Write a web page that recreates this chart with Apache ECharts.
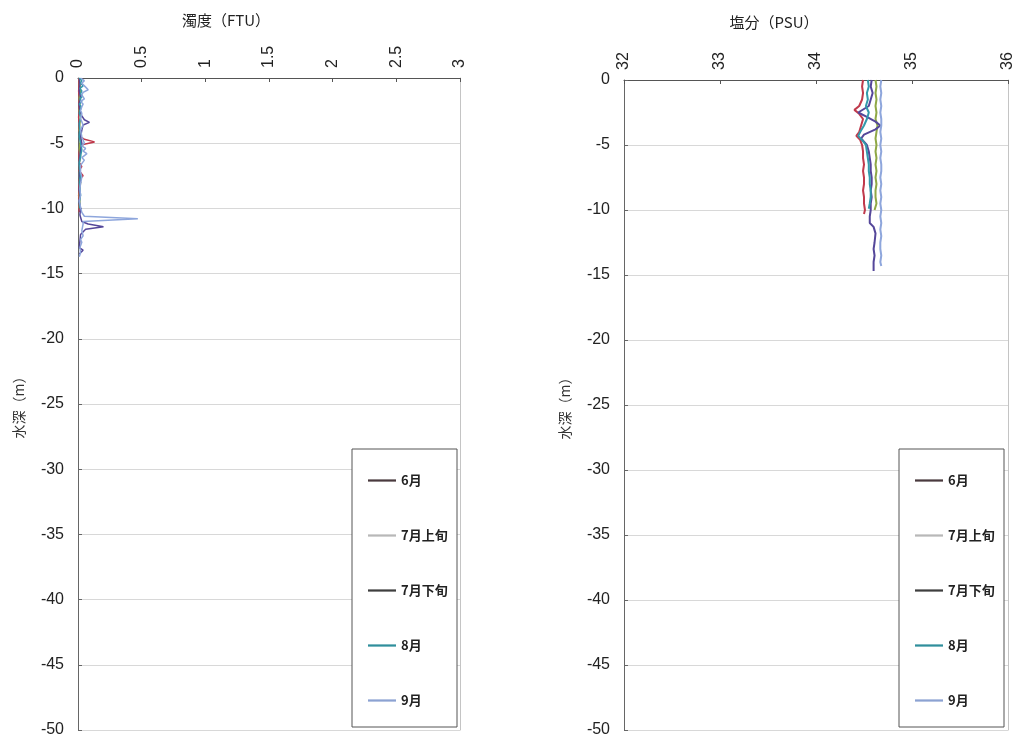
<!DOCTYPE html>
<html>
<head>
<meta charset="utf-8">
<script src="https://cdn.jsdelivr.net/npm/echarts@6/dist/echarts.min.js"></script>
<style>
  html, body { margin: 0; padding: 0; background: #fff; }
  #chart { width: 1017px; height: 744px; }
</style>
</head>
<body>
<div id="chart"></div>
<script>
// Survey months
const months = ['6月', '7月上旬', '7月下旬', '8月', '9月'];

// Turbidity profiles (FTU) : depth (m) and value per month
const turbDepth_jun = [0,-0.5,-1,-1.5,-2,-2.5,-3,-3.5,-4,-4.5,-4.7,-4.9,-5.1,-5.5,-6,-6.5,-6.8,-7.1,-7.5,-7.8,-8.2,-8.6,-9,-9.5,-10,-10.3];
const turbValue_jun = [0.005,0.01,0.005,0.01,0.008,0.01,0.005,0.01,0.01,0.02,0.05,0.13,0.04,0.01,0.008,0.01,0.03,0.008,0.04,0.01,0.008,0.01,0.005,0.01,0.008,0.01];

const turbDepth_julA = [0,-0.5,-1,-1.5,-2,-2.5,-3,-3.5,-4,-4.5,-5,-5.5,-6,-6.5,-7,-7.5,-8,-8.5,-9,-9.5,-10];
const turbValue_julA = [0.01,0.015,0.02,0.01,0.015,0.01,0.02,0.015,0.01,0.02,0.015,0.01,0.02,0.01,0.015,0.01,0.02,0.015,0.01,0.015,0.01];

const turbDepth_julB = [0,-0.5,-1,-1.5,-2,-2.5,-2.9,-3.2,-3.4,-3.6,-4,-4.5,-5,-5.5,-6,-6.5,-7,-7.5,-8,-8.5,-9,-9.5,-10,-10.5,-11,-11.2,-11.4,-11.6,-12,-12.5,-13,-13.2,-13.5];
const turbValue_julB = [0.01,0.015,0.01,0.02,0.01,0.015,0.03,0.05,0.09,0.04,0.03,0.02,0.03,0.02,0.015,0.01,0.015,0.01,0.02,0.01,0.015,0.01,0.02,0.015,0.03,0.08,0.2,0.06,0.02,0.015,0.01,0.04,0.01];

const turbDepth_aug = [0,-0.2,-0.4,-0.6,-0.8,-1,-1.2,-1.4,-1.6,-1.8,-2,-2.2,-2.4,-2.7,-3,-3.5,-4,-4.5,-5,-5.5,-6,-6.5,-7,-7.5,-8,-8.5,-9,-9.5,-10];
const turbValue_aug = [0.01,0.03,0.02,0.04,0.015,0.03,0.02,0.035,0.015,0.03,0.01,0.025,0.02,0.01,0.02,0.01,0.015,0.01,0.02,0.03,0.02,0.01,0.015,0.02,0.01,0.015,0.02,0.01,0.015];

const turbDepth_sep = [0,-0.2,-0.4,-0.7,-0.9,-1.1,-1.3,-1.6,-1.8,-2.0,-2.2,-2.5,-2.7,-3.1,-3.6,-4,-4.5,-5,-5.2,-5.4,-5.6,-5.8,-6.1,-6.3,-6.7,-7.2,-7.6,-8.1,-8.5,-9,-9.4,-9.9,-10.3,-10.6,-10.8,-11,-11.2,-11.7,-12.1,-12.4,-12.6,-13,-13.4,-13.7];
const turbValue_sep = [0.02,0.05,0.03,0.06,0.08,0.04,0.03,0.05,0.02,0.04,0.03,0.02,0.03,0.02,0.04,0.02,0.03,0.05,0.03,0.06,0.04,0.07,0.03,0.05,0.02,0.02,0.03,0.02,0.015,0.02,0.01,0.02,0.03,0.05,0.47,0.04,0.04,0.03,0.04,0.02,0.03,0.015,0.02,0.01];

// Salinity profiles (PSU) : depth (m) and value per month
const salDepth_jun = [0,-0.5,-1,-1.5,-2,-2.3,-2.6,-3,-3.5,-4,-4.3,-4.6,-5,-5.5,-6,-6.5,-7,-7.5,-8,-8.5,-9,-9.5,-10,-10.3];
const salValue_jun = [34.49,34.48,34.49,34.48,34.45,34.40,34.45,34.49,34.47,34.45,34.42,34.46,34.48,34.49,34.49,34.50,34.49,34.50,34.50,34.49,34.50,34.50,34.51,34.50];

const salDepth_julA = [0,-0.5,-1,-1.5,-2,-2.5,-3,-3.5,-4,-4.5,-5,-5.5,-6,-6.5,-7,-7.5,-8,-8.5,-9,-9.5,-10];
const salValue_julA = [34.62,34.63,34.62,34.63,34.62,34.63,34.62,34.64,34.63,34.62,34.63,34.62,34.63,34.62,34.63,34.62,34.63,34.62,34.62,34.63,34.61];

const salDepth_julB = [0,-0.5,-1,-1.5,-2,-2.5,-2.8,-3.2,-3.5,-3.8,-4.2,-4.5,-5,-5.5,-6,-6.5,-7,-7.5,-8,-8.5,-9,-9.5,-10,-10.5,-11,-11.3,-11.8,-12.5,-13,-13.5,-14,-14.7];
const salValue_julB = [34.58,34.57,34.59,34.57,34.55,34.44,34.52,34.62,34.67,34.62,34.50,34.47,34.53,34.55,34.56,34.57,34.57,34.58,34.58,34.57,34.58,34.57,34.57,34.56,34.56,34.60,34.62,34.61,34.60,34.61,34.60,34.60];

const salDepth_aug = [0,-0.5,-1,-1.5,-2,-2.5,-3,-3.5,-4,-4.3,-4.7,-5,-5.5,-6,-6.5,-7,-7.5,-8,-8.5,-9,-9.5,-9.9];
const salValue_aug = [34.54,34.55,34.53,34.54,34.52,34.55,34.53,34.50,34.46,34.44,34.49,34.52,34.53,34.54,34.55,34.55,34.56,34.56,34.57,34.57,34.56,34.55];

const salDepth_sep = [0,-0.5,-1,-1.5,-2,-2.5,-3,-3.5,-4,-4.5,-5,-5.5,-6,-6.5,-7,-7.5,-8,-8.5,-9,-9.5,-10,-10.5,-11,-11.5,-12,-12.5,-13,-13.5,-14,-14.3];
const salValue_sep = [34.68,34.67,34.68,34.67,34.68,34.67,34.68,34.68,34.67,34.68,34.67,34.68,34.67,34.68,34.68,34.67,34.68,34.67,34.68,34.67,34.68,34.67,34.68,34.67,34.68,34.67,34.67,34.68,34.67,34.68];

const lineColors = ['#c03a4c', '#8fa846', '#55479a', '#3399ab', '#8ea6dc'];
const legendIconColors = ['#4a3a3e', '#b8b8b8', '#3f3f3f', '#2f8f9c', '#8ca2d2'];

const turbSets = [
  [turbDepth_jun, turbValue_jun], [turbDepth_julA, turbValue_julA], [turbDepth_julB, turbValue_julB],
  [turbDepth_aug, turbValue_aug], [turbDepth_sep, turbValue_sep]
];
const salSets = [
  [salDepth_jun, salValue_jun], [salDepth_julA, salValue_julA], [salDepth_julB, salValue_julB],
  [salDepth_aug, salValue_aug], [salDepth_sep, salValue_sep]
];

const pairs = (d, v) => v.map((x, i) => [x, d[i]]);

const NUM_FONT = '"Liberation Sans", Arial, sans-serif';
const CJK_FONT = '"Noto Sans CJK JP", "Noto Sans", sans-serif';

function depthAxis(gridIndex) {
  return {
    type: 'value', gridIndex, min: -50, max: 0, interval: 5, position: 'left',
    name: '水深（m）', nameLocation: 'middle', nameRotate: 90, nameGap: 52,
    nameTextStyle: { fontFamily: CJK_FONT, fontSize: 14, color: '#333' },
    axisLine: { show: true, lineStyle: { color: '#666', width: 1 } },
    axisTick: { show: true, inside: true, length: 4, lineStyle: { color: '#666' } },
    axisLabel: { fontFamily: NUM_FONT, fontSize: 16, color: '#222', margin: 14 },
    splitLine: { show: true, lineStyle: { color: '#d8d8d8', width: 1 } }
  };
}
function borderAxis(gridIndex) {
  return {
    type: 'value', gridIndex, min: -50, max: 0, interval: 5, position: 'right',
    axisLine: { show: true, lineStyle: { color: '#c4c4c4', width: 1 } },
    axisTick: { show: false }, axisLabel: { show: false }, splitLine: { show: false }
  };
}
function valueAxis(gridIndex, min, max, interval) {
  return {
    type: 'value', gridIndex, min, max, interval, position: 'top',
    axisLine: { show: true, onZero: false, lineStyle: { color: '#555', width: 1 } },
    axisTick: { show: true, inside: true, length: 4, lineStyle: { color: '#555' } },
    axisLabel: { fontFamily: NUM_FONT, fontSize: 16, color: '#222', rotate: -90, margin: 10 },
    splitLine: { show: false }
  };
}
function legendFor(left) {
  return {
    orient: 'vertical', left, top: 469, itemGap: 42, itemWidth: 28, itemHeight: 14, z: 6,
    textStyle: { fontFamily: CJK_FONT, fontSize: 13, fontWeight: 'bold', color: '#222' },
    data: months.map((m, i) => ({
      name: m, icon: 'path://M0,0H1V0.08H0Z',
      itemStyle: { color: legendIconColors[i] },
      lineStyle: { color: legendIconColors[i], width: 1.5 }
    }))
  };
}

const series = [];
turbSets.forEach(([d, v], i) => series.push({
  name: months[i], type: 'line', xAxisIndex: 0, yAxisIndex: 0,
  data: pairs(d, v), symbol: 'none', lineStyle: { width: 1.5, color: lineColors[i] },
  itemStyle: { color: lineColors[i] }, z: 2
}));
salSets.forEach(([d, v], i) => series.push({
  name: months[i], type: 'line', xAxisIndex: 1, yAxisIndex: 2,
  data: pairs(d, v), symbol: 'none', lineStyle: { width: 2, color: lineColors[i] },
  itemStyle: { color: lineColors[i] }, z: 2
}));

const chart = echarts.init(document.getElementById('chart'), null, { renderer: 'canvas' });
chart.setOption({
  animation: false,
  backgroundColor: '#fff',
  title: [
    { text: '濁度（FTU）', left: 221, top: 8, textAlign: 'center',
      textStyle: { fontFamily: CJK_FONT, fontSize: 15, fontWeight: 'normal', color: '#222' } },
    { text: '塩分（PSU）', left: 769, top: 10, textAlign: 'center',
      textStyle: { fontFamily: CJK_FONT, fontSize: 15, fontWeight: 'normal', color: '#222' } }
  ],
  grid: [
    { left: 78, top: 78, width: 382, height: 652 },
    { left: 624, top: 80, width: 384, height: 650 }
  ],
  xAxis: [valueAxis(0, 0, 3, 0.5), valueAxis(1, 32, 36, 1)],
  yAxis: [depthAxis(0), borderAxis(0), depthAxis(1), borderAxis(1)],
  legend: [legendFor(363), legendFor(910)],
  graphic: [
    { type: 'rect', z: 5, shape: { x: 352, y: 449, width: 105, height: 278 },
      style: { fill: '#fff', stroke: '#555', lineWidth: 1 } },
    { type: 'rect', z: 5, shape: { x: 899, y: 449, width: 105, height: 278 },
      style: { fill: '#fff', stroke: '#555', lineWidth: 1 } }
  ],
  series
});
</script>
</body>
</html>
